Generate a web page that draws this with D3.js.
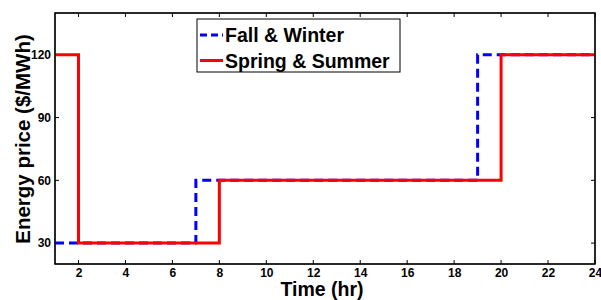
<!DOCTYPE html>
<html><head><meta charset="utf-8">
<script src="https://cdn.jsdelivr.net/npm/d3@7"></script>
<style>body{margin:0;background:#fff}svg{display:block}text{font-family:"Liberation Sans",Arial,sans-serif;font-weight:bold}</style>
</head><body>
<svg id="c" width="601" height="300"></svg>
<script>
const xTicks = [2,4,6,8,10,12,14,16,18,20,22,24];
const yTicks = [30,60,90,120];
const fallHours = [1,7,19,24];
const fallPrices = [30,60,120,120];
const springHours = [1,2,8,20,24];
const springPrices = [120,30,60,120,120];
const seriesNames = ["Fall & Winter","Spring & Summer"];

const svg = d3.select("#c");
const L=55,R=595,T=13,B=264;
const x = d3.scaleLinear().domain([1,24]).range([L,R]);
const y = d3.scaleLinear().domain([20,140]).range([B,T]);

svg.append("rect").attr("x",L).attr("y",T).attr("width",R-L).attr("height",B-T).attr("fill","#fff").attr("stroke","#000").attr("stroke-width",1.2);

const tl=4;
const gx = svg.append("g").attr("transform",`translate(0,${B})`)
  .call(d3.axisBottom(x).tickValues(xTicks).tickSize(0).tickPadding(4));
gx.select(".domain").remove();
gx.selectAll("text").attr("font-size",12).attr("fill","#000").style("font-weight","bold");
const gy = svg.append("g").attr("transform",`translate(${L},0)`)
  .call(d3.axisLeft(y).tickValues(yTicks).tickSize(0).tickPadding(4));
gy.select(".domain").remove();
gy.selectAll("text").attr("font-size",12).attr("fill","#000").style("font-weight","bold");

const tg = svg.append("g").attr("stroke","#000").attr("stroke-width",1);
xTicks.forEach(t=>{
  tg.append("line").attr("x1",x(t)).attr("x2",x(t)).attr("y1",B).attr("y2",B-tl);
  tg.append("line").attr("x1",x(t)).attr("x2",x(t)).attr("y1",T).attr("y2",T+tl);
});
yTicks.forEach(t=>{
  tg.append("line").attr("x1",L).attr("x2",L+tl).attr("y1",y(t)).attr("y2",y(t));
  tg.append("line").attr("x1",R).attr("x2",R-tl).attr("y1",y(t)).attr("y2",y(t));
});

const line = d3.line().x(d=>x(d[0])).y(d=>y(d[1])).curve(d3.curveStepAfter);
svg.append("path").datum(fallHours.map((h,i)=>[h,fallPrices[i]]))
  .attr("d",line).attr("fill","none").attr("stroke","#0000ff").attr("stroke-width",3).attr("stroke-dasharray","9,5");
svg.append("path").datum(springHours.map((h,i)=>[h,springPrices[i]]))
  .attr("d",line).attr("fill","none").attr("stroke","#ff0000").attr("stroke-width",3);

svg.append("rect").attr("x",L).attr("y",T).attr("width",R-L).attr("height",B-T).attr("fill","none").attr("stroke","#000").attr("stroke-width",1.2);

// legend
const lg = svg.append("g");
lg.append("rect").attr("x",197).attr("y",19).attr("width",203).attr("height",53).attr("fill","#fff").attr("stroke","#000").attr("stroke-width",1);
[["#0000ff","7,4"],["#ff0000",null]].forEach((s,i)=>{
  const yy = 35 + i*25.5;
  const ln = lg.append("line").attr("x1",200).attr("x2",223).attr("y1",yy).attr("y2",yy).attr("stroke",s[0]).attr("stroke-width",3);
  if(s[1]) ln.attr("stroke-dasharray",s[1]);
  lg.append("text").attr("x",225).attr("y",yy+7).attr("font-size",19.5).attr("fill","#000").text(seriesNames[i]);
});

svg.append("text").attr("x",322).attr("y",296).attr("text-anchor","middle").attr("font-size",19.5).attr("fill","#000").text("Time (hr)");
svg.append("text").attr("transform","translate(30,139) rotate(-90)").attr("text-anchor","middle").attr("font-size",20.5).attr("fill","#000").text("Energy price ($/MWh)");
</script>
</body></html>
